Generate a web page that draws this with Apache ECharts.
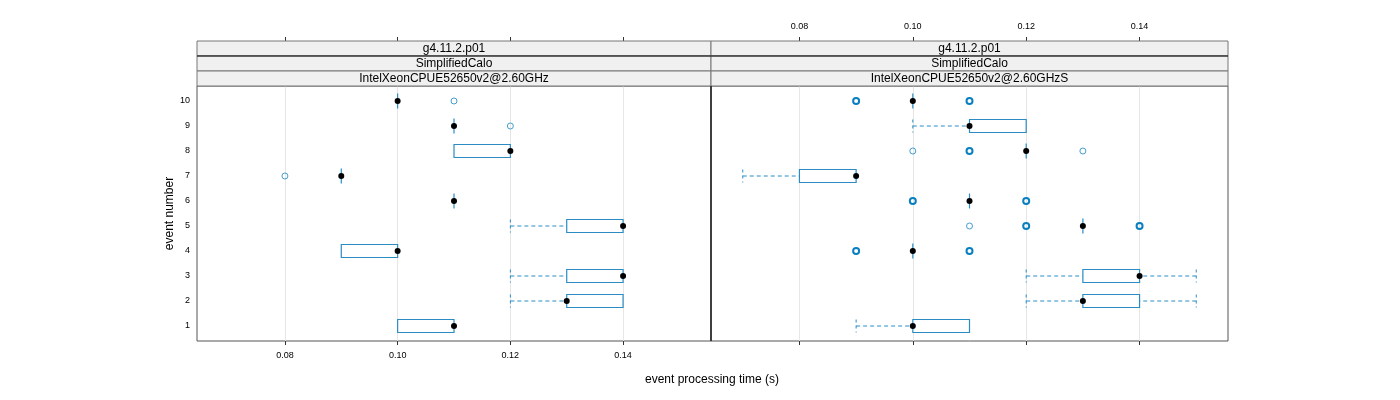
<!DOCTYPE html>
<html>
<head>
<meta charset="utf-8">
<script src="https://cdn.jsdelivr.net/npm/echarts@6/dist/echarts.min.js"></script>
<style>html,body{margin:0;padding:0;background:#fff}#c{width:1400px;height:400px}</style>
</head>
<body>
<div id="c"></div>
<script>
// ---- data ----
const events = [1, 2, 3, 4, 5, 6, 7, 8, 9, 10];
const xTicks = [0.08, 0.10, 0.12, 0.14];
const xMin = 0.0644, xMax = 0.1556;
const stripLabels = ['g4.11.2.p01', 'SimplifiedCalo'];
const panelLabels = ['IntelXeonCPUE52650v2@2.60GHz', 'IntelXeonCPUE52650v2@2.60GHzS'];

// left panel
const leftWhiskLo = [0.10, 0.12, 0.12, 0.09, 0.12, 0.11, 0.09, 0.11, 0.11, 0.10];
const leftBoxLo   = [0.10, 0.13, 0.13, 0.09, 0.13, 0.11, 0.09, 0.11, 0.11, 0.10];
const leftMedian  = [0.11, 0.13, 0.14, 0.10, 0.14, 0.11, 0.09, 0.12, 0.11, 0.10];
const leftBoxHi   = [0.11, 0.14, 0.14, 0.10, 0.14, 0.11, 0.09, 0.12, 0.11, 0.10];
const leftWhiskHi = [0.11, 0.14, 0.14, 0.10, 0.14, 0.11, 0.09, 0.12, 0.11, 0.10];
const leftOutEvent = [7, 9, 10];
const leftOutValue = [0.08, 0.12, 0.11];
const leftOutCount = [1, 1, 1];

// right panel
const rightWhiskLo = [0.09, 0.12, 0.12, 0.10, 0.13, 0.11, 0.07, 0.12, 0.10, 0.10];
const rightBoxLo   = [0.10, 0.13, 0.13, 0.10, 0.13, 0.11, 0.08, 0.12, 0.11, 0.10];
const rightMedian  = [0.10, 0.13, 0.14, 0.10, 0.13, 0.11, 0.09, 0.12, 0.11, 0.10];
const rightBoxHi   = [0.11, 0.14, 0.14, 0.10, 0.13, 0.11, 0.09, 0.12, 0.12, 0.10];
const rightWhiskHi = [0.11, 0.15, 0.15, 0.10, 0.13, 0.11, 0.09, 0.12, 0.12, 0.10];
const rightOutEvent = [4, 4, 5, 5, 5, 6, 6, 8, 8, 8, 10, 10];
const rightOutValue = [0.09, 0.11, 0.11, 0.12, 0.14, 0.10, 0.12, 0.10, 0.11, 0.13, 0.09, 0.11];
const rightOutCount = [2, 2, 1, 2, 2, 2, 2, 1, 2, 1, 2, 2];

// ---- styling ----
const BOX = '#2b8cc4';
const OUT = '#0a7fc0';
const FONT = 'Liberation Sans, Arial, sans-serif';

function boxRender(params, api) {
  const lo = api.value(0), hi = api.value(1), y = api.value(2);
  const p1 = api.coord([lo, y]), p2 = api.coord([hi, y]);
  const h = api.size([0, 0.52])[1];
  if (Math.abs(hi - lo) < 1e-9) {
    return {type: 'line', shape: {x1: p1[0], y1: p1[1] - h / 2 - 1, x2: p1[0], y2: p1[1] + h / 2 + 1},
      style: {stroke: BOX, lineWidth: 1.2}};
  }
  return {type: 'rect', shape: {x: p1[0], y: p1[1] - h / 2, width: p2[0] - p1[0], height: h},
    style: {fill: '#fff', stroke: BOX, lineWidth: 1.2}};
}
function whiskRender(params, api) {
  const a = api.value(0), b = api.value(1), y = api.value(2);
  if (Math.abs(a - b) < 1e-9) return null;
  const pa = api.coord([a, y]), pb = api.coord([b, y]);
  const h = api.size([0, 0.52])[1];
  return {type: 'group', children: [
    {type: 'line', shape: {x1: pa[0], y1: pa[1], x2: pb[0], y2: pb[1]},
      style: {stroke: BOX, lineWidth: 1, lineDash: [4, 3]}},
    {type: 'line', shape: {x1: pa[0], y1: pa[1] - h / 2, x2: pa[0], y2: pa[1] + h / 2},
      style: {stroke: BOX, lineWidth: 1, lineDash: [3, 3]}}
  ]};
}

function panelSeries(xi, yi, wLo, bLo, med, bHi, wHi, oE, oV, oC) {
  const whisk = [];
  events.forEach((e, i) => {
    whisk.push([wLo[i], bLo[i], e]);
    whisk.push([wHi[i], bHi[i], e]);
  });
  return [
    {type: 'custom', xAxisIndex: xi, yAxisIndex: yi, renderItem: whiskRender, data: whisk, z: 2, silent: true},
    {type: 'custom', xAxisIndex: xi, yAxisIndex: yi, renderItem: boxRender,
      data: events.map((e, i) => [bLo[i], bHi[i], e]), z: 3, silent: true},
    {type: 'scatter', xAxisIndex: xi, yAxisIndex: yi, symbol: 'circle', symbolSize: 6,
      itemStyle: {color: '#000', opacity: 1}, data: events.map((e, i) => [med[i], e]), z: 5, silent: true},
    {type: 'scatter', xAxisIndex: xi, yAxisIndex: yi, symbol: 'circle', symbolSize: 6,
      data: oE.map((e, i) => ({value: [oV[i], e],
        itemStyle: {color: 'transparent', borderColor: OUT, borderWidth: oC[i] > 1 ? 2 : 1, opacity: oC[i] > 1 ? 1 : 0.75}})),
      z: 4, silent: true}
  ];
}

function xAxisDef(grid, pos, labels, offset) {
  return {
    type: 'value', gridIndex: grid, position: pos, min: xMin, max: xMax, offset: offset,
    axisLine: {show: false},
    axisTick: {show: true, inside: false, length: 4, customValues: xTicks, lineStyle: {color: '#333'}},
    axisLabel: {show: labels, customValues: xTicks, formatter: v => v.toFixed(2),
      fontFamily: FONT, fontSize: 9, color: '#000', margin: 10},
    splitLine: {show: pos === 'bottom', lineStyle: {color: '#e6e6e6', width: 1}}
  };
}
function yAxisDef(grid, labels) {
  return {
    type: 'value', gridIndex: grid, min: 0.4, max: 10.6,
    name: labels ? 'event number' : '', nameLocation: 'middle', nameGap: 20, nameRotate: 90,
    nameTextStyle: {fontFamily: FONT, fontSize: 12, color: '#000'},
    axisLine: {show: false}, axisTick: {show: false},
    axisLabel: {show: labels, customValues: events, fontFamily: FONT, fontSize: 9, color: '#000', margin: 7},
    splitLine: {show: false}
  };
}

function strips(x, w, label) {
  const rows = [stripLabels[0], stripLabels[1], label];
  const out = [];
  rows.forEach((t, i) => {
    out.push({type: 'rect', shape: {x: x, y: 41 + i * 15, width: w, height: 15},
      style: {fill: '#f0f0f0', stroke: '#777', lineWidth: 1}, z: 10});
    out.push({type: 'text', x: x + w / 2, y: 41 + i * 15 + 7.5,
      style: {text: t, fill: '#000', font: '12px ' + FONT, textAlign: 'center', textVerticalAlign: 'middle'}, z: 11});
  });
  out.push({type: 'line', shape: {x1: x, y1: 56, x2: x + w, y2: 56}, style: {stroke: '#111', lineWidth: 1}, z: 12});
  return out;
}

const chart = echarts.init(document.getElementById('c'), null, {renderer: 'canvas'});
chart.setOption({
  backgroundColor: '#fff',
  animation: false,
  grid: [
    {left: 197, top: 86, width: 514, height: 255, show: true, borderColor: '#555', borderWidth: 1, backgroundColor: 'transparent'},
    {left: 711, top: 86, width: 517, height: 255, show: true, borderColor: '#555', borderWidth: 1, backgroundColor: 'transparent'}
  ],
  xAxis: [
    xAxisDef(0, 'bottom', true, 0),
    xAxisDef(0, 'top', false, 45),
    xAxisDef(1, 'bottom', false, 0),
    xAxisDef(1, 'top', true, 45)
  ],
  yAxis: [yAxisDef(0, true), yAxisDef(1, false)],
  graphic: [
    ...strips(197, 514, panelLabels[0]),
    ...strips(711, 517, panelLabels[1]),
    {type: 'line', shape: {x1: 711, y1: 86, x2: 711, y2: 341}, style: {stroke: '#000', lineWidth: 1}, z: 12},
    {type: 'text', x: 712, y: 380, style: {text: 'event processing time (s)', fill: '#000', font: '12px ' + FONT,
      textAlign: 'center', textVerticalAlign: 'middle'}}
  ],
  series: [
    ...panelSeries(0, 0, leftWhiskLo, leftBoxLo, leftMedian, leftBoxHi, leftWhiskHi, leftOutEvent, leftOutValue, leftOutCount),
    ...panelSeries(2, 1, rightWhiskLo, rightBoxLo, rightMedian, rightBoxHi, rightWhiskHi, rightOutEvent, rightOutValue, rightOutCount)
  ]
});
</script>
</body>
</html>
